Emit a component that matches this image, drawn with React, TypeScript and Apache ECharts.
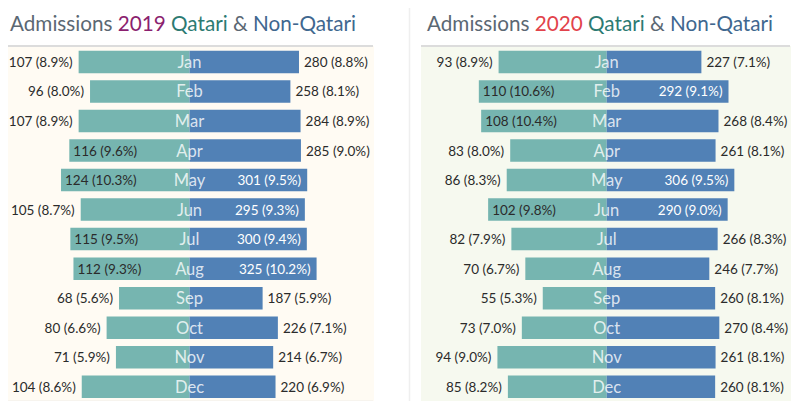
import React, { useEffect, useRef } from "react";
import * as echarts from "echarts";

const months = ["Jan", "Feb", "Mar", "Apr", "May", "Jun", "Jul", "Aug", "Sep", "Oct", "Nov", "Dec"];

const qatari2019 = [107, 96, 107, 116, 124, 105, 115, 112, 68, 80, 71, 104];
const qatari2019Pct = [8.9, 8.0, 8.9, 9.6, 10.3, 8.7, 9.5, 9.3, 5.6, 6.6, 5.9, 8.6];
const nonQatari2019 = [280, 258, 284, 285, 301, 295, 300, 325, 187, 226, 214, 220];
const nonQatari2019Pct = [8.8, 8.1, 8.9, 9.0, 9.5, 9.3, 9.4, 10.2, 5.9, 7.1, 6.7, 6.9];

const qatari2020 = [93, 110, 108, 83, 86, 102, 82, 70, 55, 73, 94, 85];
const qatari2020Pct = [8.9, 10.6, 10.4, 8.0, 8.3, 9.8, 7.9, 6.7, 5.3, 7.0, 9.0, 8.2];
const nonQatari2020 = [227, 292, 268, 261, 306, 290, 266, 246, 260, 270, 261, 260];
const nonQatari2020Pct = [7.1, 9.1, 8.4, 8.1, 9.5, 9.0, 8.3, 7.7, 8.1, 8.4, 8.1, 8.1];

const TEAL = "#76b5b0";
const BLUE = "#5181b6";
const FONT = "Lato";
const INSIDE_MIN_PX = 114;

const GRID_TOP = 47.2;
const GRID_H = 354.3;

type GridDef = { left: number; width: number; max: number };
const grids: GridDef[] = [
  { left: 3, width: 186.5, max: 180 },
  { left: 189.5, width: 187.7, max: 480 },
  { left: 420.7, width: 186, max: 160 },
  { left: 606.7, width: 187.7, max: 450 },
];

function barSeries(
  gi: number,
  values: number[],
  pcts: number[],
  color: string,
  side: "left" | "right"
) {
  const g = grids[gi];
  const scale = g.width / g.max;
  return {
    type: "bar",
    xAxisIndex: gi,
    yAxisIndex: gi,
    barWidth: 22.5,
    itemStyle: { color },
    data: values.map((v, i) => {
      const inside = v * scale > INSIDE_MIN_PX;
      const text = `${v} (${pcts[i].toFixed(1)}%)`;
      return {
        value: v,
        label: {
          show: true,
          formatter: text,
          fontFamily: FONT,
          fontSize: 13.5,
          color: inside && side === "right" ? "#ffffff" : "#2b2b2b",
          position:
            side === "left"
              ? inside
                ? "insideLeft"
                : "left"
              : inside
              ? "insideRight"
              : "right",
          distance: inside ? (side === "left" ? 4 : 6) : side === "left" ? 6 : 5,
        },
      };
    }),
  };
}

function monthSeries(gi: number) {
  return {
    type: "scatter",
    xAxisIndex: gi,
    yAxisIndex: gi,
    symbolSize: 0,
    z: 5,
    data: months.map((m) => [0, m]),
    label: {
      show: true,
      position: "inside",
      formatter: (p: any) => p.value[1],
      color: "#ffffff",
      fontFamily: FONT,
      fontSize: 16.5,
    },
  };
}

function titleRich(yearColor: string) {
  const base = { fontSize: 20.7, fontFamily: FONT, fontWeight: "normal" };
  return {
    a: { ...base, color: "#5b6873" },
    y: { ...base, color: yearColor },
    q: { ...base, color: "#2c7a72" },
    n: { ...base, color: "#40678f" },
  };
}

export default function App() {
  const ref = useRef<HTMLDivElement>(null);
  useEffect(() => {
    if (!ref.current) return;
    const chart = echarts.init(ref.current, undefined, { renderer: "svg" });
    const option: any = {
      animation: false,
      backgroundColor: "#ffffff",
      title: [
        {
          left: 10,
          top: 12,
          padding: 0,
          text: "{a|Admissions }{y|2019 }{q|Qatari }{a|& }{n|Non-Qatari}",
          textStyle: { fontWeight: "normal", rich: titleRich("#8b1f6f") },
        },
        {
          left: 427,
          top: 12,
          padding: 0,
          text: "{a|Admissions }{y|2020 }{q|Qatari }{a|& }{n|Non-Qatari}",
          textStyle: { fontWeight: "normal", rich: titleRich("#e2434b") },
        },
      ],
      graphic: [
        { type: "rect", z: -10, shape: { x: 3, y: 46, width: 371, height: 355 }, style: { fill: "#fffbf3" } },
        { type: "rect", z: -10, shape: { x: 421, y: 46, width: 370, height: 357 }, style: { fill: "#f6f9ef" } },
        { type: "line", z: -5, shape: { x1: 3, y1: 46, x2: 373, y2: 46 }, style: { stroke: "#dcdcdc", lineWidth: 2 } },
        { type: "line", z: -5, shape: { x1: 3, y1: 401.5, x2: 373, y2: 401.5 }, style: { stroke: "#dedede", lineWidth: 1.5 } },
        { type: "line", z: -5, shape: { x1: 421, y1: 46, x2: 790, y2: 46 }, style: { stroke: "#dcdcdc", lineWidth: 2 } },
        { type: "line", z: -5, shape: { x1: 421, y1: 403.5, x2: 790, y2: 403.5 }, style: { stroke: "#dedede", lineWidth: 1.5 } },
        { type: "line", z: -5, shape: { x1: 409.5, y1: 4, x2: 409.5, y2: 403 }, style: { stroke: "#efefef", lineWidth: 1.5 } },
      ],
      grid: grids.map((g) => ({ left: g.left, width: g.width, top: GRID_TOP, height: GRID_H })),
      xAxis: grids.map((g, i) => ({
        type: "value",
        gridIndex: i,
        min: 0,
        max: g.max,
        inverse: i % 2 === 0,
        show: false,
        splitLine: { show: false },
      })),
      yAxis: grids.map((_, i) => ({
        type: "category",
        gridIndex: i,
        data: months,
        inverse: true,
        show: false,
      })),
      series: [
        barSeries(0, qatari2019, qatari2019Pct, TEAL, "left"),
        barSeries(1, nonQatari2019, nonQatari2019Pct, BLUE, "right"),
        barSeries(2, qatari2020, qatari2020Pct, TEAL, "left"),
        barSeries(3, nonQatari2020, nonQatari2020Pct, BLUE, "right"),
        monthSeries(1),
        monthSeries(3),
      ],
    };
    chart.setOption(option);
    return () => chart.dispose();
  }, []);
  return <div ref={ref} style={{ width: 800, height: 409, margin: -8 }} />;
}
